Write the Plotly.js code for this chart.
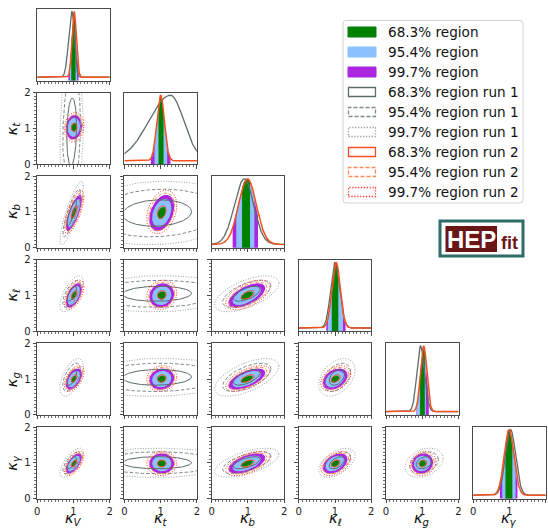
<!DOCTYPE html>
<html><head><meta charset="utf-8">
<script src="https://cdn.plot.ly/plotly-3.0.1.min.js"></script>
<style>html,body{margin:0;padding:0;background:#fff}#plot{width:548px;height:529px}</style>
</head><body><div id="plot"></div><script>
// ---------------- DATA ----------------
const paramLabels = ['<i>κ<sub>V</sub></i>','<i>κ<sub>t</sub></i>','<i>κ<sub>b</sub></i>','<i>κ<sub>ℓ</sub></i>','<i>κ<sub>g</sub></i>','<i>κ<sub>γ</sub></i>'];
const tickVals = [0,1,2];
const tickText = ['0','1','2'];
// 1D marginals: peak position, left / right width
const mainMu1D   = [1.01, 1.00, 0.97, 1.02, 1.03, 0.98];
const mainSL1D   = [0.058,0.100,0.240,0.110,0.085,0.130];
const mainSR1D   = [0.058,0.100,0.240,0.110,0.085,0.130];
const run1Mu1D   = [0.96, 1.27, 0.90, 1.00, 0.95, 1.03];
const run1SL1D   = [0.090,0.600,0.270,0.120,0.100,0.140];
const run1SR1D   = [0.065,0.370,0.260,0.130,0.110,0.140];
const run2Mu1D   = [1.02, 1.00, 0.99, 1.03, 1.04, 0.99];
const run2SL1D   = [0.060,0.105,0.245,0.115,0.088,0.135];
const run2SR1D   = [0.060,0.105,0.245,0.115,0.088,0.135];
// 1D credible bands (68.3 / 95.4 / 99.7 %)
const greenLo  = [0.94, 0.94, 0.84, 0.91, 0.94, 0.89];
const greenHi  = [1.06, 1.08, 1.06, 1.09, 1.07, 1.08];
const blueLo   = [0.90, 0.83, 0.68, 0.80, 0.85, 0.80];
const blueHi   = [1.10, 1.18, 1.18, 1.22, 1.10, 1.17];
const purpleLo = [0.86, 0.73, 0.58, 0.76, 0.84, 0.74];
const purpleHi = [1.14, 1.27, 1.28, 1.29, 1.18, 1.22];
// 2D regions: centre and 68% half-width per parameter
const mainMean2D = [1.01, 1.03, 0.97, 1.00, 1.00, 0.98];
const mainSig2D  = [0.075,0.115,0.170,0.115,0.100,0.095];
const run1Mean2D = [0.95, 0.90, 0.97, 1.05, 1.05, 1.00];
const run1Sig2D  = [0.135,0.950,0.370,0.210,0.220,0.170];
const run2Mean2D = [1.02, 1.03, 1.00, 1.02, 1.02, 0.98];
const run2Sig2D  = [0.075,0.115,0.170,0.115,0.100,0.095];
// correlations, pair order: Vt Vb Vl Vg Vy tb tl tg ty bl bg by lg ly gy
const corrMain = [0.10,0.75,0.55,0.50,0.60, 0.35,0.10,0.10,0.00, 0.60,0.60,0.55, 0.35,0.40, 0.10];
const corrRun1 = [0.15,0.85,0.65,0.55,0.70, 0.10,0.05,0.05,0.00, 0.60,0.60,0.60, 0.40,0.50, 0.30];
const corrRun2 = [0.10,0.72,0.55,0.50,0.60, 0.30,0.10,0.10,0.00, 0.55,0.60,0.55, 0.35,0.40, 0.15];
// contour levels (in units of the 68% half-width)
const levelMain = [1.0, 2.3, 3.0];
const levelRun1 = [1.0, 1.8, 2.4];
const levelRun2 = [1.05, 3.1, 3.6];
const legendNames = ['68.3% region','95.4% region','99.7% region','68.3% region run 1','95.4% region run 1','99.7% region run 1','68.3% region run 2','95.4% region run 2','99.7% region run 2'];

// ---------------- STYLE ----------------
const W=548,H=529;
const colLeft=[37.2,124.4,211.6,298.8,386.0,473.2], panelW=72.5;
const rowTop=[9,92.6,176.2,259.8,343.4,427], panelH=71.5;
const cGreen='#008000', cBlue='#8cc0ff', cPurple='#aa26e0';
const cR1=['#5d6b6b','#7f8c8d','#98a4a5'];
const cR2=['#f4511e','#ff8a55','#ff3b2e'];
const dashes=['solid','3.5px,2px','1px,1.6px'];
const axCol='#4a4a4a';

const px=x=>x/W, py=y=>1-y/H;
function split(x,mu,sl,sr){const s=x<mu?sl:sr;return Math.exp(-0.5*Math.pow((x-mu)/s,2));}
function pairIdx(i,j){let k=0;for(let a=0;a<6;a++)for(let b=a+1;b<6;b++){if(a===i&&b===j)return k;k++;}return -1;}
function ellipse(mx,my,sx,sy,rho,k){const xs=[],ys=[];const q=Math.sqrt(1-rho*rho);
  for(let n=0;n<=160;n++){const t=2*Math.PI*n/160;xs.push(mx+k*sx*Math.cos(t));ys.push(my+k*sy*(rho*Math.cos(t)+q*Math.sin(t)));}return {xs,ys};}

const layout={width:W,height:H,margin:{l:0,r:0,t:0,b:0},showlegend:false,paper_bgcolor:'#fff',plot_bgcolor:'#fff',
  font:{family:'DejaVu Sans',size:10,color:'#222'},shapes:[],annotations:[]};
const traces=[];
let n=0;
const grid=[];for(let i=0;i<=400;i++)grid.push(i*0.005);

for(let r=0;r<6;r++){for(let c=0;c<=r;c++){
  n++;const sfx=n===1?'':String(n);const xr='x'+sfx, yr='y'+sfx;
  const diag=(r===c);
  layout['xaxis'+sfx]={domain:[px(colLeft[c]),px(colLeft[c]+panelW)],anchor:yr,range:[0,2],fixedrange:true,
    showline:true,mirror:true,linecolor:axCol,linewidth:1,showgrid:false,zeroline:false,
    ticks:'outside',ticklen:3.5,tickwidth:1,tickcolor:axCol,tickmode:'array',tickvals:tickVals,ticktext:tickText,
    minor:{ticks:'outside',dtick:0.1,tick0:0,ticklen:2,tickwidth:0.8,tickcolor:axCol,showgrid:false},
    showticklabels:r===5,tickfont:{size:10,color:'#222'}};
  if(diag){
    layout['yaxis'+sfx]={domain:[py(rowTop[r]+panelH),py(rowTop[r])],anchor:xr,range:[-0.05,1.04],fixedrange:true,
      showline:true,mirror:true,linecolor:axCol,linewidth:1,showgrid:false,zeroline:false,ticks:'',showticklabels:false};
    const i=r;
    const bands=[[purpleLo[i],purpleHi[i],cPurple],[blueLo[i],blueHi[i],cBlue],[greenLo[i],greenHi[i],cGreen]];
    bands.forEach(b=>{const xs=[],ys=[];
      for(let x=b[0];x<=b[1]+1e-9;x+=0.004){xs.push(x);ys.push(split(x,mainMu1D[i],mainSL1D[i],mainSR1D[i]));}
      xs.push(b[1]);ys.push(split(b[1],mainMu1D[i],mainSL1D[i],mainSR1D[i]));
      xs.push(b[1],b[0]);ys.push(-0.2,-0.2);
      traces.push({x:xs,y:ys,xaxis:xr,yaxis:yr,mode:'lines',fill:'toself',fillcolor:b[2],line:{width:0},hoverinfo:'skip'});});
    traces.push({x:grid,y:grid.map(x=>split(x,run1Mu1D[i],run1SL1D[i],run1SR1D[i])),xaxis:xr,yaxis:yr,mode:'lines',line:{color:cR1[0],width:1.3},hoverinfo:'skip'});
    traces.push({x:grid,y:grid.map(x=>split(x,run2Mu1D[i],run2SL1D[i],run2SR1D[i])),xaxis:xr,yaxis:yr,mode:'lines',line:{color:cR2[0],width:1.5},hoverinfo:'skip'});
  } else {
    layout['yaxis'+sfx]={domain:[py(rowTop[r]+panelH),py(rowTop[r])],anchor:xr,range:[0,2],fixedrange:true,
      showline:true,mirror:true,linecolor:axCol,linewidth:1,showgrid:false,zeroline:false,
      ticks:'outside',ticklen:3.5,tickwidth:1,tickcolor:axCol,tickmode:'array',tickvals:tickVals,ticktext:tickText,
      minor:{ticks:'outside',dtick:0.1,tick0:0,ticklen:2,tickwidth:0.8,tickcolor:axCol,showgrid:false},
      showticklabels:c===0,tickfont:{size:10,color:'#222'}};
    const p=pairIdx(c,r);
    const fills=[cGreen,cBlue,cPurple];
    for(let l=2;l>=0;l--){const e=ellipse(mainMean2D[c],mainMean2D[r],mainSig2D[c],mainSig2D[r],corrMain[p],levelMain[l]);
      traces.push({x:e.xs,y:e.ys,xaxis:xr,yaxis:yr,mode:'lines',fill:'toself',fillcolor:fills[l],line:{width:0},hoverinfo:'skip'});}
    for(let l=0;l<3;l++){const e=ellipse(run1Mean2D[c],run1Mean2D[r],run1Sig2D[c],run1Sig2D[r],corrRun1[p],levelRun1[l]);
      traces.push({x:e.xs,y:e.ys,xaxis:xr,yaxis:yr,mode:'lines',line:{color:cR1[l],width:1,dash:dashes[l]},hoverinfo:'skip'});}
    for(let l=0;l<3;l++){const e=ellipse(run2Mean2D[c],run2Mean2D[r],run2Sig2D[c],run2Sig2D[r],corrRun2[p],levelRun2[l]);
      traces.push({x:e.xs,y:e.ys,xaxis:xr,yaxis:yr,mode:'lines',line:{color:cR2[l],width:1,dash:dashes[l]},hoverinfo:'skip'});}
  }
}}

// axis titles
for(let c=0;c<6;c++) layout.annotations.push({xref:'paper',yref:'paper',x:px(colLeft[c]+panelW/2),y:py(528.5),text:paramLabels[c],showarrow:false,xanchor:'center',yanchor:'bottom',borderpad:0,font:{size:14.5,color:'#111'}});
for(let r=1;r<6;r++) layout.annotations.push({xref:'paper',yref:'paper',x:px(13),y:py(rowTop[r]+panelH/2),text:paramLabels[r],showarrow:false,textangle:-90,xanchor:'center',yanchor:'middle',borderpad:0,font:{size:14.5,color:'#111'}});

// legend (drawn by hand)
(function(){const x0=343,x1=523,y0=20.5,y1=203,rr=3;
  const P=(x,y)=>px(x)+','+py(y);
  const path='M'+P(x0+rr,y0)+' L'+P(x1-rr,y0)+' Q'+P(x1,y0)+' '+P(x1,y0+rr)+' L'+P(x1,y1-rr)+' Q'+P(x1,y1)+' '+P(x1-rr,y1)+' L'+P(x0+rr,y1)+' Q'+P(x0,y1)+' '+P(x0,y1-rr)+' L'+P(x0,y0+rr)+' Q'+P(x0,y0)+' '+P(x0+rr,y0)+' Z';
  layout.shapes.push({type:'path',xref:'paper',yref:'paper',path:path,fillcolor:'rgba(255,255,255,0.9)',line:{color:'#d0d0d0',width:1}});
  const fillsL=[cGreen,cBlue,cPurple];
  legendNames.forEach((t,i)=>{const yc=32+20*i;
    if(i<3) layout.shapes.push({type:'rect',xref:'paper',yref:'paper',x0:px(348),x1:px(376),y0:py(yc+5),y1:py(yc-5),fillcolor:fillsL[i],line:{color:fillsL[i],width:1}});
    else {const run=i<6?cR1:cR2;const l=(i-3)%3;
      layout.shapes.push({type:'rect',xref:'paper',yref:'paper',x0:px(348.5),x1:px(375.5),y0:py(yc+4.5),y1:py(yc-4.5),fillcolor:'rgba(0,0,0,0)',line:{color:run[l],width:1.3,dash:l===0?'solid':(l===1?'4px,2px':'1.3px,1.6px')}});}
    layout.annotations.push({xref:'paper',yref:'paper',x:px(386),y:py(yc),text:t,showarrow:false,xanchor:'left',yanchor:'middle',font:{size:13.6,color:'#111'}});
  });
})();

// HEPfit logo
layout.shapes.push({type:'rect',xref:'paper',yref:'paper',x0:px(440),x1:px(523),y0:py(256),y1:py(221),fillcolor:'#fff',line:{color:'#2f6b69',width:3}});
layout.shapes.push({type:'rect',xref:'paper',yref:'paper',x0:px(445.5),x1:px(497),y0:py(252),y1:py(226),fillcolor:'#6b1616',line:{width:0}});
layout.annotations.push({xref:'paper',yref:'paper',x:px(471.5),y:py(239.5),text:'<b>HEP</b>',showarrow:false,xanchor:'center',yanchor:'middle',font:{family:'Liberation Sans',size:24,color:'#fff'}});
layout.annotations.push({xref:'paper',yref:'paper',x:px(509),y:py(243),text:'<b>fit</b>',showarrow:false,xanchor:'center',yanchor:'middle',font:{family:'Liberation Sans',size:18,color:'#6b1616'}});

Plotly.newPlot('plot',traces,layout,{staticPlot:true,displayModeBar:false});
</script></body></html>
